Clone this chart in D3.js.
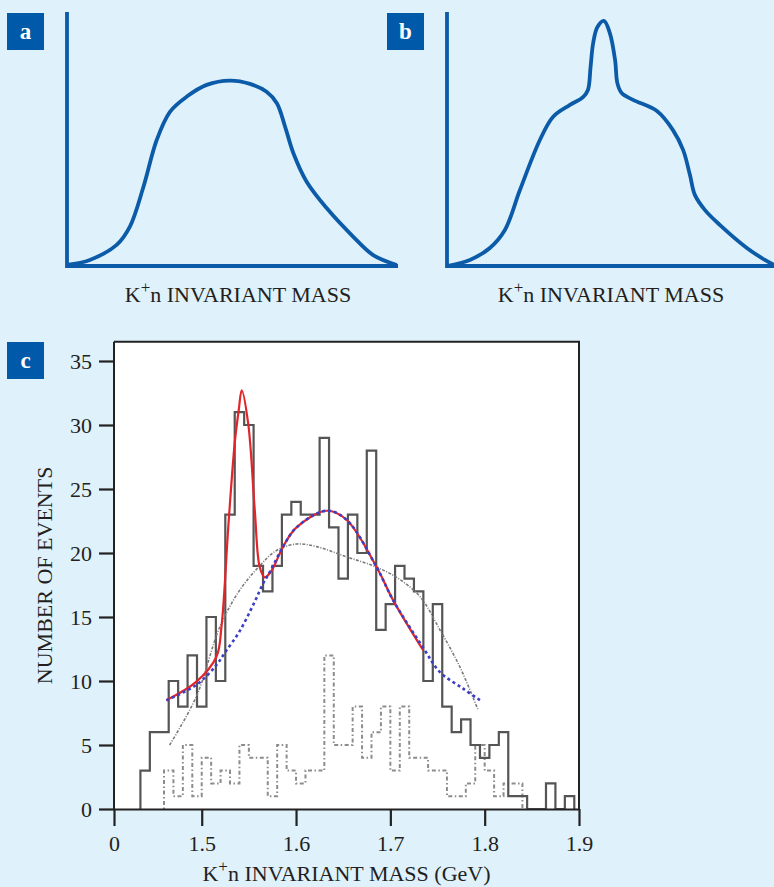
<!DOCTYPE html>
<html lang="en">
  <head>
    <meta charset="UTF-8" />
    <title>K+n invariant mass</title>
    <style>
      body {
        margin: 0;
        background-color: #dff1fb;
      }
      svg {
        display: block;
      }
      text {
        font-family: "Liberation Serif", "Times New Roman", serif;
        fill: #231f20;
      }
    </style>
  </head>
  <body>
    <svg id="chart" width="774" height="887"></svg>

    <script src="https://d3js.org/d3.v7.min.js"></script>
    <script>
      // schematic shapes for panels a and b, in 0-100 units
      const shapeA = [
        [0, 0.4], [6.9, 2.4], [15.0, 8.3], [19.0, 15.5], [23.1, 31.2],
        [27.1, 49.6], [31.1, 60.7], [36.2, 66.7], [42.2, 71.3], [49.2, 73.0],
        [55.3, 71.7], [60.3, 68.6], [63.4, 64.1], [65.9, 54.8], [68.4, 44.4],
        [72.4, 33.2], [78.5, 22.7], [86.5, 11.5], [92.5, 4.3], [99.6, 0.4],
      ];
      const shapeB = [
        [0, 0], [7.0, 2.4], [13.1, 7.1], [17.7, 14.2], [22.3, 29.9],
        [28.4, 49.6], [32.4, 58.7], [37.6, 63.4], [41.6, 66.5], [43.1, 69.3],
        [43.9, 78.3], [44.7, 87.8], [46.0, 94.1], [48.0, 96.5], [49.8, 91.7],
        [51.4, 81.1], [52.1, 72.0], [53.4, 68.1], [56.9, 65.4], [64.2, 61.0],
        [69.1, 53.5], [72.2, 45.7], [74.3, 35.8], [75.8, 28.0], [78.9, 22.0],
        [83.5, 16.1], [91.7, 7.1], [97.2, 2.4], [100, 0.4],
      ];

      // panel c: measured histogram, 0.01 GeV bins (centres)
      const binCentres = [
        1.44, 1.45, 1.46, 1.47, 1.48, 1.49, 1.5, 1.51, 1.52, 1.53, 1.54, 1.55,
        1.56, 1.57, 1.58, 1.59, 1.6, 1.61, 1.62, 1.63, 1.64, 1.65, 1.66, 1.67,
        1.68, 1.69, 1.7, 1.71, 1.72, 1.73, 1.74, 1.75, 1.76, 1.77, 1.78, 1.79,
        1.8, 1.81, 1.82, 1.83, 1.84, 1.85, 1.86, 1.87, 1.88, 1.89,
      ];
      const events = [
        3, 6, 6, 10, 8, 12, 8, 15, 10, 23, 31, 30,
        19, 17, 19, 23, 24, 23, 23, 29, 22, 18, 23, 20,
        28, 14, 16, 19, 18, 17, 10, 16, 8, 6, 7, 5,
        4, 5, 6, 1, 1, 0, 0, 2, 0, 1,
      ];

      // dotted background histogram (centres offset by half a bin)
      const bgCentres = [
        1.465, 1.475, 1.485, 1.495, 1.505, 1.515, 1.525, 1.535, 1.545, 1.555,
        1.565, 1.575, 1.585, 1.595, 1.605, 1.615, 1.625, 1.635, 1.645, 1.655,
        1.665, 1.675, 1.685, 1.695, 1.705, 1.715, 1.725, 1.735, 1.745, 1.755,
        1.765, 1.775, 1.785, 1.795, 1.805, 1.815, 1.825, 1.835,
      ];
      const bgEvents = [
        3, 1, 5, 1, 4, 2, 3, 2, 5, 4,
        4, 1, 5, 3, 2, 3, 3, 12, 5, 5,
        8, 4, 6, 8, 3, 8, 4, 4, 3, 3,
        1, 1, 2, 5, 3, 1, 2, 2,
      ];

      // fits: signal + background (red), background only (blue), alternative (grey)
      const fitPeak = [
        [1.4625, 8.5], [1.4944, 9.95], [1.5156, 11.9], [1.5209, 14.2],
        [1.5285, 22.4], [1.535, 28.6], [1.5393, 31.2], [1.5424, 32.7],
        [1.5493, 30.1], [1.5563, 23.3], [1.5615, 18.9], [1.5668, 18.1],
        [1.5739, 18.6], [1.5863, 20.5], [1.6005, 22], [1.6323, 23.3],
        [1.6535, 22.6], [1.6854, 18.9], [1.703, 16.3], [1.7348, 12.4],
      ];
      const fitBackground = [
        [1.4625, 8.5], [1.4944, 9.7], [1.5156, 11.25], [1.5244, 12.2],
        [1.5403, 13.9], [1.5562, 16.2], [1.565, 17.6], [1.5721, 18.5],
        [1.5863, 20.5], [1.6005, 22], [1.6323, 23.3], [1.6535, 22.6],
        [1.6854, 18.9], [1.703, 16.3], [1.7348, 12.6], [1.7525, 10.7],
        [1.7772, 9.4], [1.795, 8.5],
      ];
      const fitAlt = [
        [1.466, 5.0], [1.4944, 8.8], [1.5191, 14.2], [1.5403, 17.1],
        [1.5615, 19], [1.5793, 20.2], [1.6005, 20.7], [1.6217, 20.5],
        [1.6535, 19.7], [1.6818, 19], [1.7066, 18.1], [1.7313, 16.6],
        [1.7525, 14], [1.7737, 11.1], [1.7932, 7.7],
      ];

      const yTicks = [0, 5, 10, 15, 20, 25, 30, 35];
      const xOrigin = 1.407;
      const xTicks = [xOrigin, 1.5, 1.6, 1.7, 1.8, 1.9];
      const xTickLabels = ["0", "1.5", "1.6", "1.7", "1.8", "1.9"];

      const blue = "#0b5ba8";
      const svg = d3.select("#chart");

      function panelLabel(x, y, letter) {
        svg.append("rect")
          .attr("x", x).attr("y", y)
          .attr("width", 37).attr("height", 37)
          .attr("fill", "#0059a9");
        svg.append("text")
          .attr("x", x + 18.5).attr("y", y + 26)
          .attr("text-anchor", "middle")
          .style("fill", "#fff")
          .style("font-weight", "bold")
          .style("font-size", "23px")
          .text(letter);
      }

      function massTitle(g, x, y, suffix) {
        const t = g.append("text")
          .attr("x", x).attr("y", y)
          .attr("text-anchor", "middle")
          .style("font-size", "22px");
        t.append("tspan").text("K");
        t.append("tspan").attr("dy", -9).style("font-size", "17px").text("+");
        t.append("tspan").attr("dy", 9).text("n INVARIANT MASS" + suffix);
      }

      function sketch(shape, x0, x1, letter, labelX, titleX) {
        const x = d3.scaleLinear().domain([0, 100]).range([x0, x1]);
        const y = d3.scaleLinear().domain([0, 100]).range([266, 12]);
        svg.append("path")
          .attr("d", `M${x(0)},${y(100)}V${y(0)}H${x(100)}`)
          .attr("fill", "none")
          .attr("stroke", blue)
          .attr("stroke-width", 3.8);
        svg.append("path")
          .datum(shape)
          .attr("d", d3.line()
            .x((d) => x(d[0]))
            .y((d) => y(d[1]))
            .curve(d3.curveCatmullRom.alpha(0.5)))
          .attr("fill", "none")
          .attr("stroke", blue)
          .attr("stroke-width", 3.8)
          .attr("stroke-linejoin", "round");
        panelLabel(labelX, 13, letter);
        massTitle(svg, titleX, 302, "");
      }

      sketch(shapeA, 67, 398, "a", 7, 238);
      sketch(shapeB, 447, 774, "b", 387, 611);

      // panel c
      const x = d3.scaleLinear().domain([xOrigin, 1.9]).range([114, 579]);
      const y = d3.scaleLinear().domain([0, 35]).range([809, 361]);
      const yTop = 36.5;

      svg.append("rect")
        .attr("x", x(xOrigin)).attr("y", y(yTop))
        .attr("width", x(1.9) - x(xOrigin))
        .attr("height", y(0) - y(yTop))
        .attr("fill", "#fff");

      function steps(centres, counts, w) {
        const pts = [[centres[0] - w / 2, 0]];
        centres.forEach((c, i) => {
          pts.push([c - w / 2, counts[i]], [c + w / 2, counts[i]]);
        });
        pts.push([centres[centres.length - 1] + w / 2, 0]);
        return pts;
      }

      const lin = d3.line().x((d) => x(d[0])).y((d) => y(d[1]));
      const smooth = d3.line()
        .x((d) => x(d[0]))
        .y((d) => y(d[1]))
        .curve(d3.curveCatmullRom.alpha(0.5));

      svg.append("path")
        .datum(steps(bgCentres, bgEvents, 0.01))
        .attr("d", lin)
        .attr("fill", "none")
        .attr("stroke", "#8c8c8c")
        .attr("stroke-width", 2)
        .attr("stroke-dasharray", "1.5,2.5,4,2.5");

      svg.append("path")
        .datum(steps(binCentres, events, 0.01))
        .attr("d", lin)
        .attr("fill", "none")
        .attr("stroke", "#555")
        .attr("stroke-width", 2.2);

      svg.append("path")
        .datum(fitAlt)
        .attr("d", smooth)
        .attr("fill", "none")
        .attr("stroke", "#7a7a7a")
        .attr("stroke-width", 1.6)
        .attr("stroke-dasharray", "3,1.5,1,1.5");

      svg.append("path")
        .datum(fitPeak)
        .attr("d", smooth)
        .attr("fill", "none")
        .attr("stroke", "#e2252b")
        .attr("stroke-width", 2.2);

      svg.append("path")
        .datum(fitBackground)
        .attr("d", smooth)
        .attr("fill", "none")
        .attr("stroke", "#3b3fc4")
        .attr("stroke-width", 2.6)
        .attr("stroke-dasharray", "3,3");

      // frame
      svg.append("path")
        .attr("d", `M${x(xOrigin)},${y(yTop)}H${x(1.9)}V${y(0)}`)
        .attr("fill", "none")
        .attr("stroke", "#222")
        .attr("stroke-width", 2);

      const yAxis = svg.append("g")
        .attr("transform", `translate(${x(xOrigin)},0)`)
        .call(d3.axisLeft(y).tickValues(yTicks).tickSize(15).tickPadding(7).tickSizeOuter(0));
      const xAxis = svg.append("g")
        .attr("transform", `translate(0,${y(0)})`)
        .call(d3.axisBottom(x).tickValues(xTicks).tickSize(17).tickPadding(9).tickSizeOuter(0)
          .tickFormat((d, i) => xTickLabels[i]));

      [yAxis, xAxis].forEach((g) => {
        g.select(".domain").attr("stroke", "#222").attr("stroke-width", 2);
        g.selectAll(".tick line").attr("stroke", "#222").attr("stroke-width", 2.2);
        g.selectAll(".tick text")
          .style("font-family", '"Liberation Serif", serif')
          .style("font-size", "22px")
          .style("fill", "#231f20");
      });
      yAxis.select(".domain").attr("d", `M0,${y(yTop)}V${y(0)}`);

      svg.append("text")
        .attr("transform", `translate(52,${(y(0) + y(yTop)) / 2}) rotate(-90)`)
        .attr("text-anchor", "middle")
        .style("font-size", "22px")
        .text("NUMBER OF EVENTS");

      massTitle(svg, (x(xOrigin) + x(1.9)) / 2, 881, " (GeV)");
      panelLabel(7, 342, "c");
    </script>
  </body>
</html>
